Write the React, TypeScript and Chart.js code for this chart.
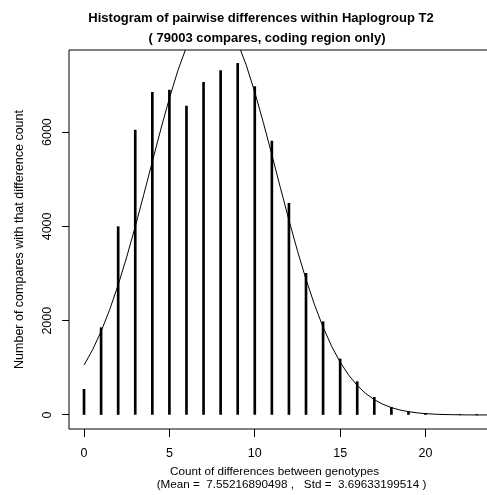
import React, { useEffect, useRef } from "react";
import { Chart, registerables } from "chart.js";

Chart.register(...registerables);

const differences = [0, 1, 2, 3, 4, 5, 6, 7, 8, 9, 10, 11, 12, 13, 14, 15, 16, 17, 18, 19, 20, 21, 22, 23];
const compareCounts = [545, 1851, 3994, 6045, 6844, 6893, 6554, 7056, 7302, 7458, 6964, 5811, 4490, 3005, 1979, 1188, 707, 375, 163, 70, 35, 15, 5, 2];

const curveX = [0, 0.5, 1, 1.5, 2, 2.5, 3, 3.5, 4, 4.5, 5, 5.5, 6, 6.5, 7, 7.5, 8, 8.5, 9, 9.5, 10, 10.5, 11, 11.5, 12, 12.5, 13, 13.5, 14, 14.5, 15, 15.5, 16, 16.5, 17, 17.5, 18, 18.5, 19, 19.5, 20, 20.5, 21, 21.5, 22, 22.5, 23, 23.5, 24];
const curveY = [1058, 1382, 1773, 2232, 2760, 3351, 3995, 4676, 5374, 6064, 6719, 7309, 7807, 8188, 8432, 8526, 8465, 8251, 7898, 7421, 6848, 6204, 5520, 4821, 4135, 3482, 2878, 2336, 1862, 1458, 1121, 845, 626, 455, 325, 228, 157, 106, 71, 46, 29, 18, 11, 7, 4, 2, 1, 1, 0];

const xTicks = [0, 5, 10, 15, 20];
const yTicks = [0, 2000, 4000, 6000];

const titleLines = ["Histogram of pairwise differences within Haplogroup T2", "( 79003 compares, coding region only)"];
const xTitleLines = ["Count of differences between genotypes", "(Mean =  7.55216890498 ,   Std =  3.69633199514 )"];
const yTitle = "Number of compares with that difference count";

const FONT = '"Liberation Sans", Arial, Helvetica, sans-serif';

const textPlugin = {
  id: "rText",
  afterDraw(chart: any) {
    const ctx = chart.ctx as CanvasRenderingContext2D;
    const { left, top, right, bottom } = chart.chartArea;
    ctx.save();
    ctx.strokeStyle = "#000";
    ctx.lineWidth = 1;
    ctx.beginPath();
    ctx.moveTo(right + 5, top);
    ctx.lineTo(left, top);
    ctx.lineTo(left, bottom);
    ctx.lineTo(right + 5, bottom);
    ctx.stroke();

    ctx.fillStyle = "#000";
    ctx.textAlign = "center";
    ctx.textBaseline = "middle";
    ctx.font = `bold 13px ${FONT}`;
    ctx.fillText(titleLines[0], 261, 18);
    ctx.fillText(titleLines[1], 267, 38.5);
    ctx.font = `11.7px ${FONT}`;
    ctx.fillText(xTitleLines[0], 274.5, 472);
    ctx.fillText(xTitleLines[1], 291.5, 485);
    const ys = chart.scales.y;
    ctx.font = `12.5px ${FONT}`;
    yTicks.forEach((v) => {
      const py = ys.getPixelForValue(v);
      ctx.save();
      ctx.translate(48, py);
      ctx.rotate(-Math.PI / 2);
      ctx.fillText(String(v), 0, 0);
      ctx.restore();
    });
    ctx.font = `12.5px ${FONT}`;
    ctx.save();
    ctx.translate(20, (top + bottom) / 2);
    ctx.rotate(-Math.PI / 2);
    ctx.fillText(yTitle, 0, 0);
    ctx.restore();
    ctx.restore();
  },
};

export default function App() {
  const ref = useRef<HTMLCanvasElement | null>(null);
  useEffect(() => {
    if (!ref.current) return;
    const chart = new Chart(ref.current, {
      type: "bar",
      data: {
        datasets: [
          {
            type: "line",
            data: curveX.map((x, i) => ({ x, y: curveY[i] })),
            borderColor: "#000",
            borderWidth: 1,
            pointRadius: 0,
            tension: 0,
            fill: false,
            order: 0,
          } as any,
          {
            type: "bar",
            data: differences.map((x, i) => ({ x, y: compareCounts[i] })),
            backgroundColor: "#000",
            borderWidth: 0,
            barThickness: 2,
            grouped: false,
            order: 1,
          } as any,
        ],
      },
      options: {
        responsive: false,
        animation: false,
        devicePixelRatio: 1,
        layout: { padding: { top: 50, left: 0, right: 0, bottom: 0 } },
        plugins: { legend: { display: false }, tooltip: { enabled: false }, title: { display: false } },
        scales: {
          x: {
            type: "linear",
            offset: false,
            min: -0.88,
            max: 23.6,
            afterBuildTicks: (s: any) => {
              s.ticks = xTicks.map((v) => ({ value: v }));
            },
            afterFit: (s: any) => {
              s.height = 66;
            },
            ticks: {
              color: "#000",
              font: { family: FONT, size: 12.5 },
              padding: 9,
              maxRotation: 0,
              callback: (v: any) => String(v),
            },
            grid: { offset: false, drawOnChartArea: false, drawTicks: true, tickLength: 8, color: "#000", tickColor: "#000" },
            border: { display: false },
          },
          y: {
            type: "linear",
            min: -297,
            max: 7741,
            afterBuildTicks: (s: any) => {
              s.ticks = yTicks.map((v) => ({ value: v }));
            },
            afterFit: (s: any) => {
              s.width = 69;
            },
            ticks: { display: false },
            grid: { drawOnChartArea: false, drawTicks: true, tickLength: 7, color: "#000", tickColor: "#000" },
            border: { display: false },
          },
        },
      },
      plugins: [textPlugin],
    });
    return () => chart.destroy();
  }, []);
  return (
    <div style={{ position: "absolute", left: 0, top: 0, width: 487, height: 495, background: "#fff" }}>
      <canvas ref={ref} width={487} height={495} style={{ display: "block" }} />
    </div>
  );
}
